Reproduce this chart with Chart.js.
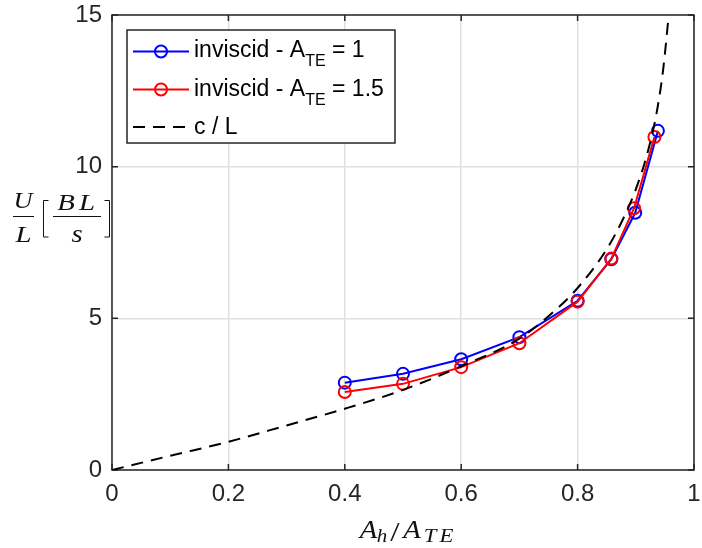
<!DOCTYPE html>
<html>
<head>
<meta charset="utf-8">
<script src="https://cdn.jsdelivr.net/npm/chart.js@4/dist/chart.umd.min.js"></script>
<style>
html,body{margin:0;padding:0;background:#fff;}
#wrap{width:702px;height:548px;position:relative;}
</style>
</head>
<body>
<div id="wrap"><canvas id="c" width="702" height="548"></canvas></div>
<script>
// ---- data ----
const blueX = [0.4, 0.5, 0.6, 0.7, 0.8, 0.858, 0.899, 0.938];
const blueY = [2.88, 3.17, 3.65, 4.38, 5.58, 6.95, 8.48, 11.18];
const redX  = [0.4, 0.5, 0.6, 0.7, 0.8, 0.858, 0.897, 0.932];
const redY  = [2.57, 2.84, 3.39, 4.18, 5.55, 6.97, 8.63, 10.98];
const cLX = [0, 0.1, 0.2, 0.3, 0.4, 0.5, 0.6, 0.7, 0.75, 0.8, 0.85, 0.88, 0.9, 0.92, 0.936, 0.947, 0.956, 0.962];
const cLY = [0, 0.47, 0.93, 1.47, 2.02, 2.64, 3.42, 4.33, 5.07, 6.0, 7.28, 8.35, 9.25, 10.45, 11.8, 13.2, 14.9, 16.2];
const xTickValues = [0, 0.2, 0.4, 0.6, 0.8, 1];
const xTickLabels = ["0", "0.2", "0.4", "0.6", "0.8", "1"];
const yTickValues = [0, 5, 10, 15];
const yTickLabels = ["0", "5", "10", "15"];
const seriesLabels = ["inviscid - A_TE = 1", "inviscid - A_TE = 1.5", "c / L"];

const toPts = (xs, ys) => xs.map((x, i) => ({x: x, y: ys[i]}));
const AX = '#262626';
const SANS = '"Liberation Sans", Arial, Helvetica, sans-serif';
const SERIF = '"Liberation Serif", "Times New Roman", serif';

const boxPlugin = {
  id: 'box',
  beforeDatasetsDraw(chart) {
    const {ctx, chartArea: a, scales} = chart;
    ctx.save();
    ctx.strokeStyle = AX; ctx.lineWidth = 1.5;
    ctx.strokeRect(a.left, a.top, a.right - a.left, a.bottom - a.top);
    const tl = 6;
    ctx.beginPath();
    xTickValues.forEach(v => {
      const px = scales.x.getPixelForValue(v);
      ctx.moveTo(px, a.bottom); ctx.lineTo(px, a.bottom - tl);
      ctx.moveTo(px, a.top); ctx.lineTo(px, a.top + tl);
    });
    yTickValues.forEach(v => {
      const py = scales.y.getPixelForValue(v);
      ctx.moveTo(a.left, py); ctx.lineTo(a.left + tl, py);
      ctx.moveTo(a.right, py); ctx.lineTo(a.right - tl, py);
    });
    ctx.stroke();
    ctx.restore();
  }
};

// draw a glyph centred at cx, mildly widened by sx
function glyph(ctx, text, font, cx, baseline, sx) {
  ctx.save();
  ctx.font = font; ctx.textAlign = 'center';
  ctx.translate(cx, baseline); ctx.scale(sx || 1, 1);
  ctx.fillText(text, 0, 0);
  ctx.restore();
}

function drawSubText(ctx, x, y, main, sub, rest, mainFont, subFont, subDy) {
  ctx.font = mainFont; ctx.fillText(main, x, y); x += ctx.measureText(main).width;
  ctx.font = subFont; ctx.fillText(sub, x, y + subDy); x += ctx.measureText(sub).width;
  if (rest) { ctx.font = mainFont; ctx.fillText(rest, x, y); x += ctx.measureText(rest).width; }
  return x;
}

const labelsPlugin = {
  id: 'labels',
  afterDraw(chart) {
    const {ctx} = chart;
    ctx.save();
    ctx.fillStyle = '#111'; ctx.textBaseline = 'alphabetic';
    // x-axis title  A_h / A_TE
    const big = 'italic 26px ' + SERIF, sm = 'italic 19px ' + SERIF, up = '27px ' + SERIF;
    glyph(ctx, 'A', big, 368.5, 538, 1.1);
    glyph(ctx, 'h', sm, 382, 541.5, 1.1);
    glyph(ctx, '/', up, 395, 541, 1.25);
    glyph(ctx, 'A', big, 412, 538, 1.1);
    glyph(ctx, 'T', sm, 430, 541.5, 1.2);
    glyph(ctx, 'E', sm, 446.5, 541.5, 1.2);
    // y-axis title  U/L [BL/s]
    const yf = 'italic 24px ' + SERIF;
    glyph(ctx, 'U', yf, 23, 208, 1.1);
    glyph(ctx, 'L', yf, 23.5, 242, 1.2);
    glyph(ctx, 'B', yf, 66, 209.5, 1.2);
    glyph(ctx, 'L', yf, 87, 209.5, 1.2);
    glyph(ctx, 's', 'italic 25px ' + SERIF, 77, 242, 1.15);
    ctx.strokeStyle = '#111'; ctx.lineWidth = 1;
    ctx.beginPath();
    ctx.moveTo(13, 216.5); ctx.lineTo(34, 216.5);
    ctx.moveTo(53, 216.5); ctx.lineTo(101, 216.5);
    ctx.moveTo(48.5, 200.5); ctx.lineTo(43.5, 200.5); ctx.lineTo(43.5, 237); ctx.lineTo(48.5, 237);
    ctx.moveTo(104.5, 200.5); ctx.lineTo(109.5, 200.5); ctx.lineTo(109.5, 237); ctx.lineTo(104.5, 237);
    ctx.stroke();
    // legend
    const L = {x: 127, y: 30, w: 268, h: 113};
    ctx.fillStyle = '#fff'; ctx.fillRect(L.x, L.y, L.w, L.h);
    ctx.strokeStyle = AX; ctx.lineWidth = 1.5; ctx.strokeRect(L.x, L.y, L.w, L.h);
    const rows = [
      {y: 51.5, color: '#0000ff', dash: [], marker: true},
      {y: 89.5, color: '#ff0000', dash: [], marker: true},
      {y: 127, color: '#000000', dash: [12, 8], marker: false}
    ];
    rows.forEach(r => {
      ctx.strokeStyle = r.color; ctx.lineWidth = 2; ctx.setLineDash(r.dash);
      ctx.beginPath(); ctx.moveTo(133, r.y); ctx.lineTo(189, r.y); ctx.stroke();
      ctx.setLineDash([]);
      if (r.marker) { ctx.beginPath(); ctx.arc(161, r.y, 6, 0, Math.PI * 2); ctx.stroke(); }
    });
    ctx.fillStyle = '#000'; ctx.textAlign = 'left';
    const lf = '23px ' + SANS, ls = '16px ' + SANS;
    const s1 = seriesLabels[0].split('_TE'), s2 = seriesLabels[1].split('_TE');
    drawSubText(ctx, 194, 57, s1[0], 'TE', s1[1], lf, ls, 9);
    drawSubText(ctx, 194, 95.5, s2[0], 'TE', s2[1], lf, ls, 9);
    ctx.font = lf; ctx.fillText(seriesLabels[2], 194, 134);
    ctx.restore();
  }
};

new Chart(document.getElementById('c'), {
  type: 'scatter',
  data: {
    datasets: [
      {label: seriesLabels[0], data: toPts(blueX, blueY), showLine: true, borderColor: '#0000ff', backgroundColor: 'rgba(0,0,0,0)', borderWidth: 2, pointRadius: 6, pointBorderWidth: 2, pointBorderColor: '#0000ff', order: 2},
      {label: seriesLabels[1], data: toPts(redX, redY), showLine: true, borderColor: '#ff0000', backgroundColor: 'rgba(0,0,0,0)', borderWidth: 2, pointRadius: 6, pointBorderWidth: 2, pointBorderColor: '#ff0000', order: 1},
      {label: seriesLabels[2], data: toPts(cLX, cLY), showLine: true, borderColor: '#000000', borderWidth: 2, borderDash: [12, 8], pointRadius: 0, cubicInterpolationMode: 'monotone', order: 0}
    ]
  },
  options: {
    responsive: false, animation: false,
    layout: {padding: {left: 0, right: 5, top: 15, bottom: 0}},
    plugins: {legend: {display: false}, tooltip: {enabled: false}},
    scales: {
      x: {
        type: 'linear', min: 0, max: 1,
        afterBuildTicks: s => { s.ticks = xTickValues.map(v => ({value: v})); },
        afterFit: s => { s.height = 78; s.paddingLeft = 0; s.paddingRight = 0; },
        grid: {color: '#e0e0e0', lineWidth: 1.5, drawTicks: false},
        border: {display: false},
        ticks: {padding: 10, color: AX, font: {family: SANS, size: 24}, maxRotation: 0,
          callback: (v, i) => xTickLabels[i]}
      },
      y: {
        type: 'linear', min: 0, max: 15,
        afterBuildTicks: s => { s.ticks = yTickValues.map(v => ({value: v})); },
        afterFit: s => { s.width = 112; s.paddingTop = 0; s.paddingBottom = 0; },
        grid: {color: '#e0e0e0', lineWidth: 1.5, drawTicks: false},
        border: {display: false},
        ticks: {padding: 10, color: AX, font: {family: SANS, size: 24},
          callback: (v, i) => yTickLabels[i]}
      }
    }
  },
  plugins: [boxPlugin, labelsPlugin]
});
</script>
</body>
</html>
